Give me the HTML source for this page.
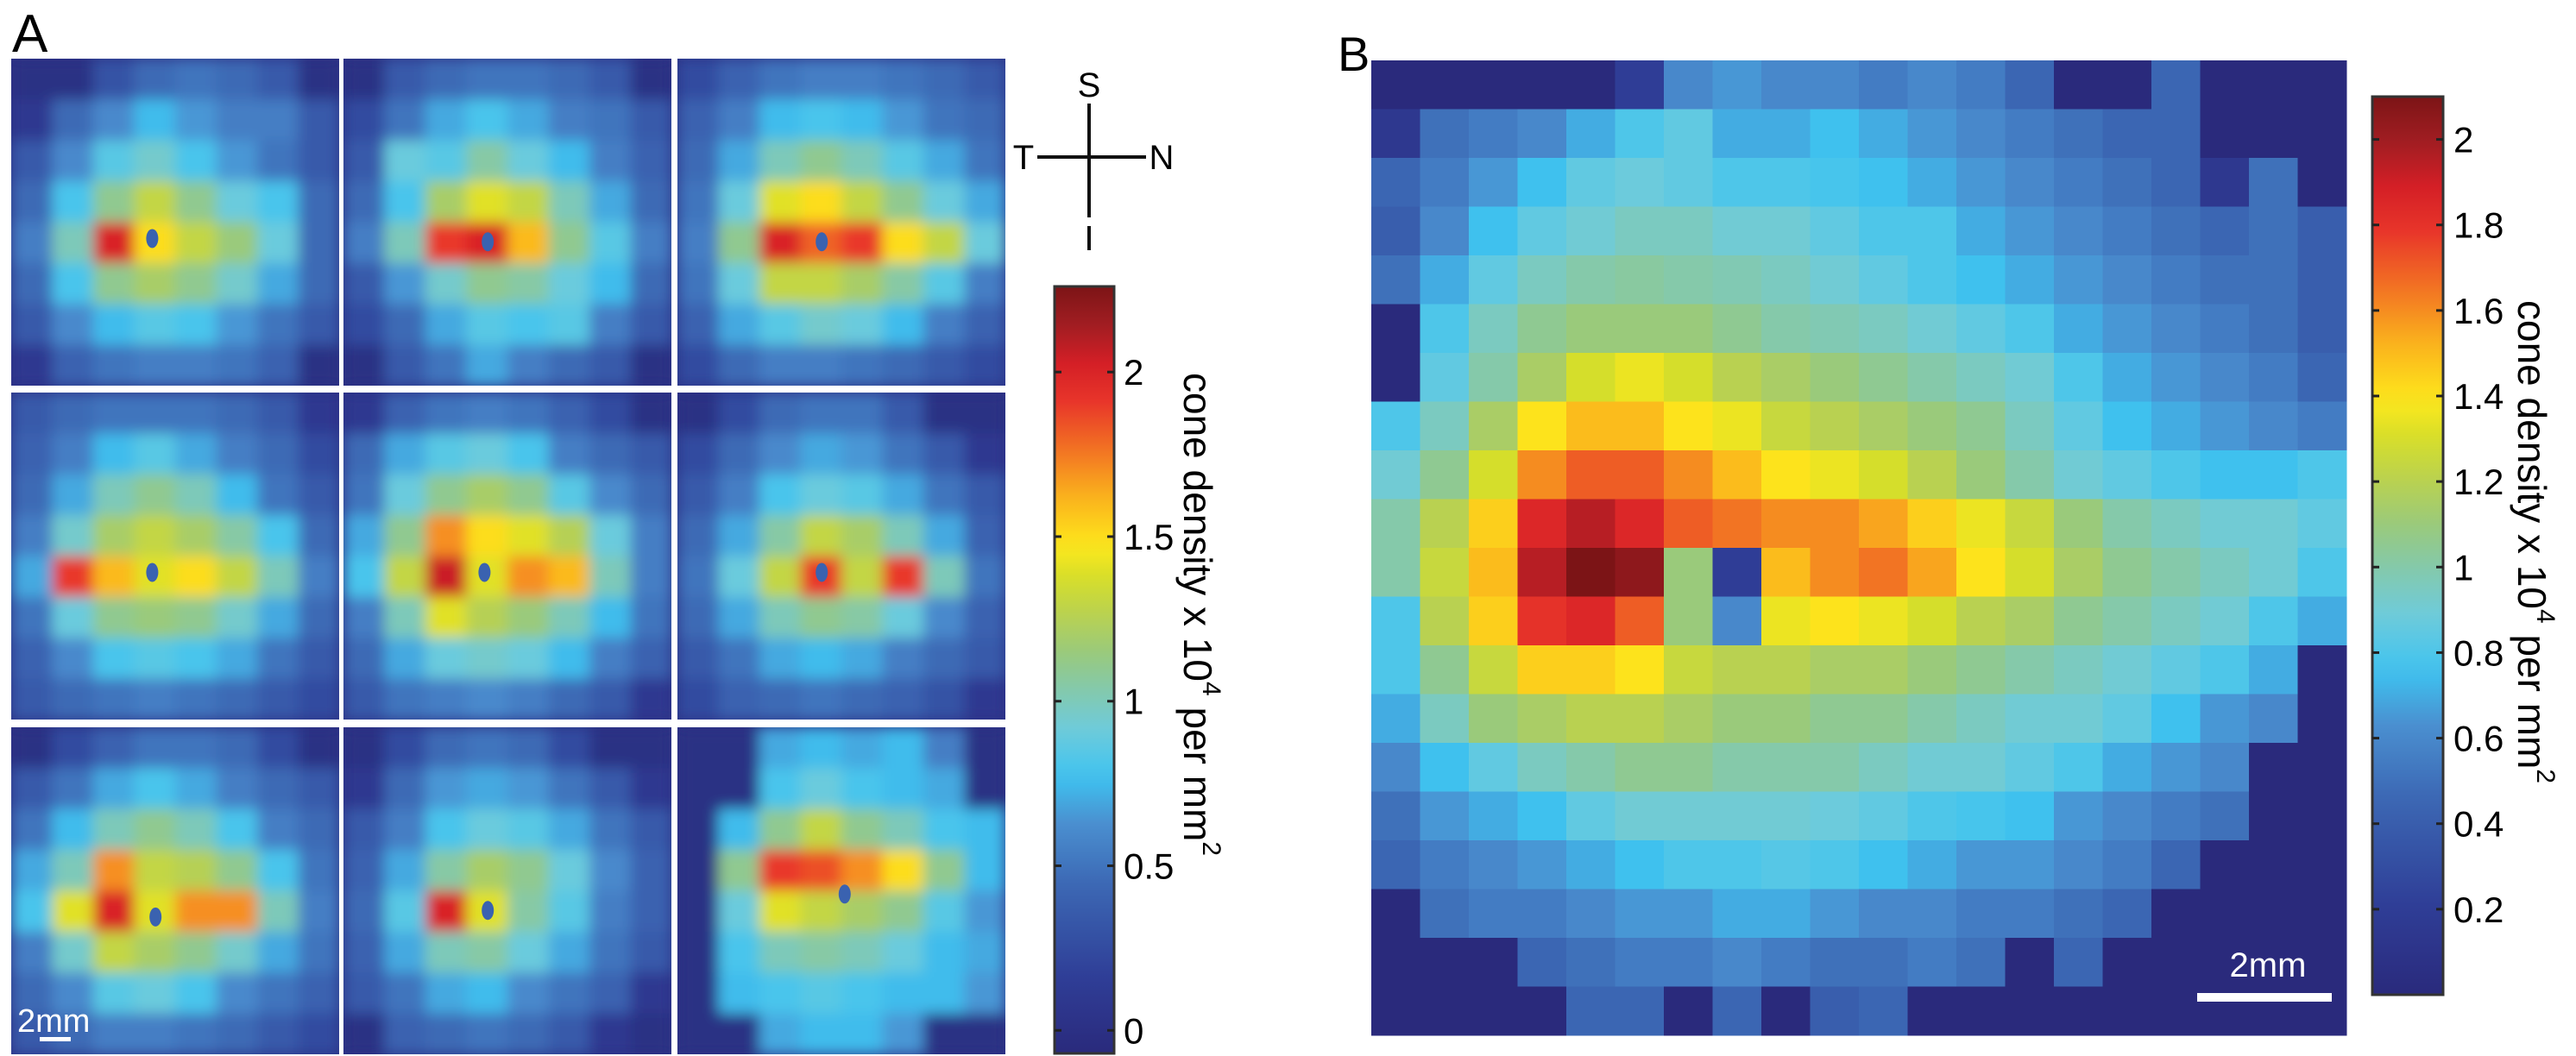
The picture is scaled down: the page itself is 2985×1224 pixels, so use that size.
<!DOCTYPE html>
<html><head><meta charset="utf-8"><style>
html,body{margin:0;padding:0;background:#fff;}
svg{display:block;font-family:"Liberation Sans",sans-serif;}
</style></head><body>
<svg id="fig" width="2985" height="1224" viewBox="0 0 2985 1224" xmlns="http://www.w3.org/2000/svg">
<defs>
<filter id="soft" x="-5%" y="-5%" width="110%" height="110%"><feGaussianBlur stdDeviation="8" edgeMode="duplicate"/></filter>
<linearGradient id="gradA" x1="0" y1="1" x2="0" y2="0"></linearGradient>
<linearGradient id="gradB" x1="0" y1="1" x2="0" y2="0"></linearGradient>
</defs>
<text x="14" y="60" font-size="62">A</text>
<text x="1550" y="82" font-size="56">B</text>
<g id="tiles"></g>
<g id="heatB"></g>
<g id="cbA"></g>
<g id="cbB"></g>
<g>
<line x1="1262" y1="120" x2="1262" y2="252" stroke="#111" stroke-width="4"/>
<line x1="1262" y1="262" x2="1262" y2="290" stroke="#111" stroke-width="4"/>
<line x1="1202" y1="182" x2="1328" y2="182" stroke="#111" stroke-width="4"/>
<text x="1262" y="112" font-size="40" text-anchor="middle">S</text>
<text x="1186" y="196" font-size="40" text-anchor="middle">T</text>
<text x="1346" y="196" font-size="40" text-anchor="middle">N</text>
</g>
<g>
<text x="20" y="1196" font-size="38" fill="#fff">2mm</text>
<rect x="46" y="1202" width="36" height="5" fill="#fff"/>
</g>
<g>
<text x="2628" y="1132" font-size="40" fill="#fff" text-anchor="middle">2mm</text>
<rect x="2546" y="1151" width="156" height="10" fill="#fff"/>
</g>
<text transform="translate(1372,432) rotate(90)" font-size="46">cone density  x 10<tspan dy="-22" font-size="30">4</tspan><tspan dy="22"> per mm</tspan><tspan dy="-22" font-size="30">2</tspan></text>
<text transform="translate(2918,348) rotate(90)" font-size="46">cone density  x 10<tspan dy="-22" font-size="30">4</tspan><tspan dy="22"> per mm</tspan><tspan dy="-22" font-size="30">2</tspan></text>
</svg>
<script>
const NS="http://www.w3.org/2000/svg";
// colormap stops (normalized position, color)
const cmPos=[0,0.1,0.22,0.3,0.36,0.42,0.47,0.52,0.57,0.62,0.66,0.72,0.78,0.85,0.9,0.95,1];
const cmCol=["#2a2a7c","#2f3e97","#3c68b4","#4a8fd0","#3ec3f0","#6dcbdc","#82c9b0","#98c97e","#b8d152","#d6de2a","#fde81c","#fbb71c","#f37a22","#e8352a","#d41f26","#a11d22","#7c1416"];
// panel B colorbar
const ticksB=[0.2,0.4,0.6,0.8,1,1.2,1.4,1.6,1.8,2];
const tickLabelsB=["0.2","0.4","0.6","0.8","1","1.2","1.4","1.6","1.8","2"];
const rangeB=[0,2.1];
// panel A colorbar
const ticksA=[0,0.5,1,1.5,2];
const tickLabelsA=["0","0.5","1","1.5","2"];
const rangeA=[-0.07,2.26];
// panel B density grid (20x20, x10^4 per mm^2)
const densB=[
[0,0,0,0,0,0.2,0.6,0.65,0.6,0.6,0.55,0.6,0.55,0.45,0,0,0.45,0,0,0],
[0.15,0.5,0.55,0.6,0.7,0.8,0.85,0.7,0.7,0.75,0.7,0.65,0.6,0.55,0.5,0.45,0.45,0,0,0],
[0.45,0.55,0.65,0.75,0.85,0.88,0.85,0.8,0.8,0.78,0.75,0.7,0.65,0.6,0.55,0.5,0.45,0.15,0.5,0],
[0.4,0.6,0.75,0.85,0.9,0.95,0.95,0.9,0.9,0.85,0.8,0.8,0.7,0.65,0.6,0.55,0.5,0.45,0.5,0.4],
[0.5,0.7,0.85,0.95,1.0,1.02,1.0,0.98,0.95,0.9,0.85,0.8,0.75,0.7,0.65,0.6,0.55,0.5,0.5,0.4],
[0,0.8,0.95,1.05,1.1,1.1,1.1,1.05,1.0,0.98,0.95,0.9,0.85,0.8,0.7,0.65,0.6,0.55,0.5,0.4],
[0,0.85,1.0,1.15,1.3,1.35,1.3,1.2,1.15,1.1,1.05,1.0,0.95,0.9,0.8,0.7,0.65,0.6,0.55,0.45],
[0.8,0.95,1.15,1.4,1.5,1.5,1.4,1.35,1.25,1.2,1.15,1.1,1.05,0.95,0.85,0.75,0.7,0.65,0.6,0.55],
[0.9,1.05,1.3,1.6,1.7,1.7,1.6,1.5,1.4,1.35,1.3,1.2,1.1,1.0,0.9,0.85,0.8,0.75,0.75,0.8],
[1.0,1.2,1.45,1.85,1.95,1.85,1.7,1.65,1.6,1.6,1.55,1.45,1.35,1.25,1.1,1.0,0.95,0.9,0.9,0.85],
[1.0,1.25,1.5,1.95,2.1,2.05,1.1,0.2,1.5,1.6,1.65,1.55,1.4,1.3,1.15,1.05,1.0,0.95,0.9,0.8],
[0.8,1.2,1.45,1.8,1.85,1.7,1.1,0.6,1.35,1.4,1.35,1.3,1.2,1.15,1.05,1.0,0.95,0.9,0.8,0.7],
[0.8,1.05,1.25,1.45,1.45,1.4,1.25,1.2,1.2,1.15,1.15,1.1,1.05,1.0,0.95,0.9,0.85,0.8,0.7,0],
[0.7,0.95,1.1,1.15,1.2,1.2,1.15,1.1,1.1,1.05,1.05,1.0,0.95,0.9,0.9,0.85,0.75,0.65,0.6,0],
[0.6,0.75,0.85,0.95,1.0,1.05,1.05,1.0,1.0,1.0,0.95,0.9,0.9,0.85,0.8,0.7,0.65,0.6,0,0],
[0.5,0.65,0.7,0.75,0.85,0.9,0.9,0.9,0.9,0.88,0.85,0.8,0.78,0.75,0.65,0.6,0.55,0.5,0,0],
[0.45,0.55,0.6,0.65,0.7,0.75,0.8,0.8,0.82,0.8,0.75,0.7,0.65,0.65,0.6,0.55,0.45,0,0,0],
[0,0.5,0.55,0.55,0.6,0.65,0.65,0.7,0.7,0.65,0.6,0.6,0.55,0.55,0.5,0.45,0,0,0,0],
[0,0,0,0.45,0.5,0.55,0.55,0.6,0.55,0.5,0.5,0.55,0.5,0,0.45,0,0,0,0,0],
[0,0,0,0,0.45,0.45,0,0.45,0,0.4,0.45,0,0,0,0,0,0,0,0,0]];
// panel A: nine individual retinas (8x8 grids)
const densA1=[[0,0,0.3,0.45,0.5,0.45,0.35,0],[0.1,0.45,0.6,0.75,0.65,0.55,0.55,0.35],[0.35,0.6,0.85,0.95,0.8,0.65,0.5,0.35],[0.45,0.8,1.1,1.3,1.1,0.9,0.8,0.45],[0.55,1.0,2.0,1.5,1.3,1.15,0.9,0.45],[0.45,0.8,1.1,1.2,1.1,0.95,0.7,0.45],[0.35,0.6,0.75,0.85,0.8,0.65,0.5,0.35],[0.1,0.4,0.5,0.55,0.55,0.5,0.4,0]];
const densA2=[[0,0.35,0.45,0.5,0.5,0.45,0.35,0],[0.25,0.5,0.7,0.8,0.7,0.55,0.5,0.35],[0.35,0.9,0.85,1.05,0.9,0.75,0.55,0.4],[0.45,0.8,1.2,1.4,1.3,1.0,0.7,0.45],[0.55,1.0,1.9,2.0,1.6,1.1,0.85,0.55],[0.35,0.65,0.95,1.1,1.05,0.9,0.75,0.45],[0.25,0.45,0.7,0.85,0.8,0.85,0.55,0.35],[0,0.35,0.5,0.7,0.55,0.45,0.35,0]];
const densA3=[[0.25,0.4,0.5,0.55,0.55,0.5,0.45,0.35],[0.4,0.55,0.75,0.8,0.75,0.65,0.5,0.45],[0.45,0.7,1.0,1.1,1.0,0.85,0.7,0.5],[0.5,0.9,1.4,1.5,1.3,1.1,0.9,0.7],[0.55,1.1,2.0,1.8,1.9,1.5,1.3,0.9],[0.5,0.9,1.3,1.3,1.2,1.05,0.85,0.55],[0.4,0.7,0.85,0.95,0.9,0.75,0.55,0.4],[0.25,0.45,0.55,0.55,0.5,0.45,0.35,0.25]];
const densA4=[[0.35,0.45,0.5,0.5,0.5,0.45,0.35,0.1],[0.4,0.55,0.75,0.85,0.7,0.55,0.45,0.25],[0.45,0.7,1.0,1.1,1.0,0.75,0.5,0.35],[0.55,0.95,1.2,1.3,1.2,1.05,0.8,0.45],[0.7,1.9,1.6,1.4,1.5,1.3,1.0,0.55],[0.5,0.9,1.1,1.15,1.1,0.95,0.7,0.45],[0.4,0.6,0.8,0.85,0.8,0.7,0.5,0.35],[0.35,0.45,0.5,0.55,0.5,0.45,0.35,0.25]];
const densA5=[[0.1,0.4,0.5,0.55,0.5,0.4,0.25,0],[0.45,0.7,0.85,0.9,0.8,0.55,0.45,0.35],[0.5,0.9,1.1,1.2,1.1,0.85,0.6,0.45],[0.7,1.1,1.7,1.5,1.4,1.25,0.9,0.55],[0.8,1.3,2.05,1.4,1.7,1.6,1.0,0.55],[0.55,1.0,1.4,1.25,1.15,1.0,0.75,0.5],[0.45,0.7,0.9,0.95,0.9,0.75,0.55,0.4],[0.35,0.5,0.55,0.6,0.55,0.45,0.35,0.1]];
const densA6=[[0,0.25,0.45,0.5,0.5,0.35,0,0],[0.25,0.45,0.6,0.7,0.65,0.5,0.35,0.1],[0.35,0.55,0.8,0.9,0.85,0.7,0.5,0.35],[0.45,0.7,1.05,1.3,1.2,1.0,0.7,0.4],[0.5,0.9,1.3,1.9,1.3,1.9,1.0,0.5],[0.45,0.7,1.0,1.1,1.05,0.9,0.6,0.4],[0.35,0.5,0.7,0.75,0.7,0.55,0.45,0.35],[0.25,0.4,0.45,0.5,0.45,0.4,0.3,0.1]];
const densA7=[[0,0.25,0.4,0.5,0.5,0.45,0.25,0],[0.35,0.5,0.7,0.8,0.7,0.55,0.45,0.35],[0.5,0.75,1.0,1.1,1.0,0.8,0.55,0.45],[0.7,1.0,1.7,1.3,1.25,1.1,0.8,0.5],[0.8,1.4,2.0,1.4,1.7,1.7,1.0,0.55],[0.55,0.95,1.3,1.2,1.1,0.95,0.7,0.5],[0.45,0.6,0.85,0.9,0.8,0.6,0.5,0.4],[0.35,0.45,0.55,0.55,0.5,0.45,0.35,0.25]];
const densA8=[[0,0.25,0.45,0.5,0.45,0.25,0,0],[0.1,0.45,0.65,0.7,0.65,0.5,0.35,0.1],[0.35,0.55,0.8,0.9,0.85,0.7,0.5,0.35],[0.4,0.7,1.05,1.2,1.1,0.9,0.6,0.4],[0.45,0.85,2.0,1.4,1.05,0.85,0.55,0.4],[0.4,0.7,1.0,1.05,0.9,0.7,0.5,0.35],[0.35,0.5,0.7,0.75,0.6,0.5,0.4,0.1],[0,0.4,0.45,0.5,0.45,0.35,0.1,0]];
const densA9=[[0,0,0.7,0.75,0.7,0.75,0.55,0],[0,0,0.8,0.9,0.8,0.75,0.7,0],[0,0.75,1.1,1.3,1.1,1.0,0.8,0.75],[0,1.1,1.9,1.85,1.7,1.5,1.1,0.75],[0,0.9,1.4,1.3,1.2,1.1,0.85,0.65],[0,0.8,1.0,1.05,1.0,0.9,0.75,0.7],[0,0.75,0.8,0.85,0.8,0.75,0.75,0.65],[0,0,0.7,0.75,0.75,0.65,0,0]];
const tilesA=[densA1,densA2,densA3,densA4,densA5,densA6,densA7,densA8,densA9];
// fovea (foveal pit) location in each retina, fraction of tile width/height
const foveaX=[0.43,0.44,0.44,0.43,0.43,0.44,0.44,0.44,0.51];
const foveaY=[0.55,0.56,0.56,0.55,0.55,0.55,0.58,0.56,0.51];
const foveaVal=[0.4,0.4,0.4,0.4,0.4,0.4,0.4,0.4,0.4];

function hex(h){return [parseInt(h.slice(1,3),16),parseInt(h.slice(3,5),16),parseInt(h.slice(5,7),16)];}
function cmap(t){t=Math.max(0,Math.min(1,t));
 for(let i=1;i<cmPos.length;i++){if(t<=cmPos[i]){const f=(t-cmPos[i-1])/(cmPos[i]-cmPos[i-1]);const a=hex(cmCol[i-1]),b=hex(cmCol[i]);
 return "rgb("+a.map((v,k)=>Math.round(v+(b[k]-v)*f)).join(",")+")";}}return cmCol[cmCol.length-1];}
function mk(tag,attrs,parent){const e=document.createElementNS(NS,tag);for(const k in attrs)e.setAttribute(k,attrs[k]);parent.appendChild(e);return e;}

// Panel A tiles
const colX=[13,398,785], rowY=[68,455,843], tileW=380, tileH=379;
const tg=document.getElementById("tiles");
const defs=document.querySelector("defs");
const normA=v=>(v-rangeA[0])/(rangeA[1]-rangeA[0]);
tilesA.forEach((grid,ti)=>{
 const x0=colX[ti%3], y0=rowY[Math.floor(ti/3)];
 const cp=mk("clipPath",{id:"clip"+ti},defs);mk("rect",{x:x0,y:y0,width:tileW,height:tileH},cp);
 const g=mk("g",{"clip-path":"url(#clip"+ti+")"},tg);
 
 
 mk("rect",{x:x0,y:y0,width:tileW,height:tileH,fill:cmap(normA(0))},g);
 const inner=mk("g",{filter:"url(#soft)"},g);
 const rows=grid.length, cols=grid[0].length, cw=tileW/cols, ch=tileH/rows;
 grid.forEach((row,r)=>row.forEach((v,c)=>{
  const cell=mk("rect",{x:x0+c*cw,y:y0+r*ch,width:cw+0.6,height:ch+0.6,fill:cmap(normA(v))},inner);
  
  
 }));
 const fov=mk("ellipse",{cx:x0+foveaX[ti]*tileW,cy:y0+foveaY[ti]*tileH,rx:7,ry:11,fill:cmap(normA(foveaVal[ti]))},g);
 
 
});

// Panel B heatmap
const hb=document.getElementById("heatB");
const bx=1589, by=70, bw=1130, bh=1130;
const normB=v=>(v-rangeB[0])/(rangeB[1]-rangeB[0]);
const nr=densB.length, nc=densB[0].length, cwB=bw/nc, chB=bh/nr;
densB.forEach((row,r)=>row.forEach((v,c)=>{
 const cell=mk("rect",{x:bx+c*cwB,y:by+r*chB,width:cwB+0.5,height:chB+0.5,fill:cmap(normB(v))},hb);
 
 
}));

// Colorbars
function colorbar(gid,gradId,x,y0,y1,w,range,ticks,labels,labelX){
 const grad=document.getElementById(gradId);
 for(let i=0;i<=40;i++){const t=i/40;mk("stop",{offset:t,"stop-color":cmap(t)},grad);}
 const g=document.getElementById(gid);
 mk("rect",{x:x,y:y0,width:w,height:y1-y0,fill:"url(#"+gradId+")",stroke:"#333","stroke-width":3},g);
 const yOf=v=>y1-(v-range[0])/(range[1]-range[0])*(y1-y0);
 ticks.forEach((v,i)=>{const y=yOf(v);
  mk("line",{x1:x,y1:y,x2:x+8,y2:y,stroke:"#222","stroke-width":3},g);
  mk("line",{x1:x+w-8,y1:y,x2:x+w,y2:y,stroke:"#222","stroke-width":3},g);
  const t=mk("text",{x:labelX,y:y+15,"font-size":42},g);t.textContent=labels[i];
  
  
 });
}
colorbar("cbA","gradA",1222,332,1221,69,rangeA,ticksA,tickLabelsA,1302);
colorbar("cbB","gradB",2749,112,1153,82,rangeB,ticksB,tickLabelsB,2843);
</script>
</body></html>
